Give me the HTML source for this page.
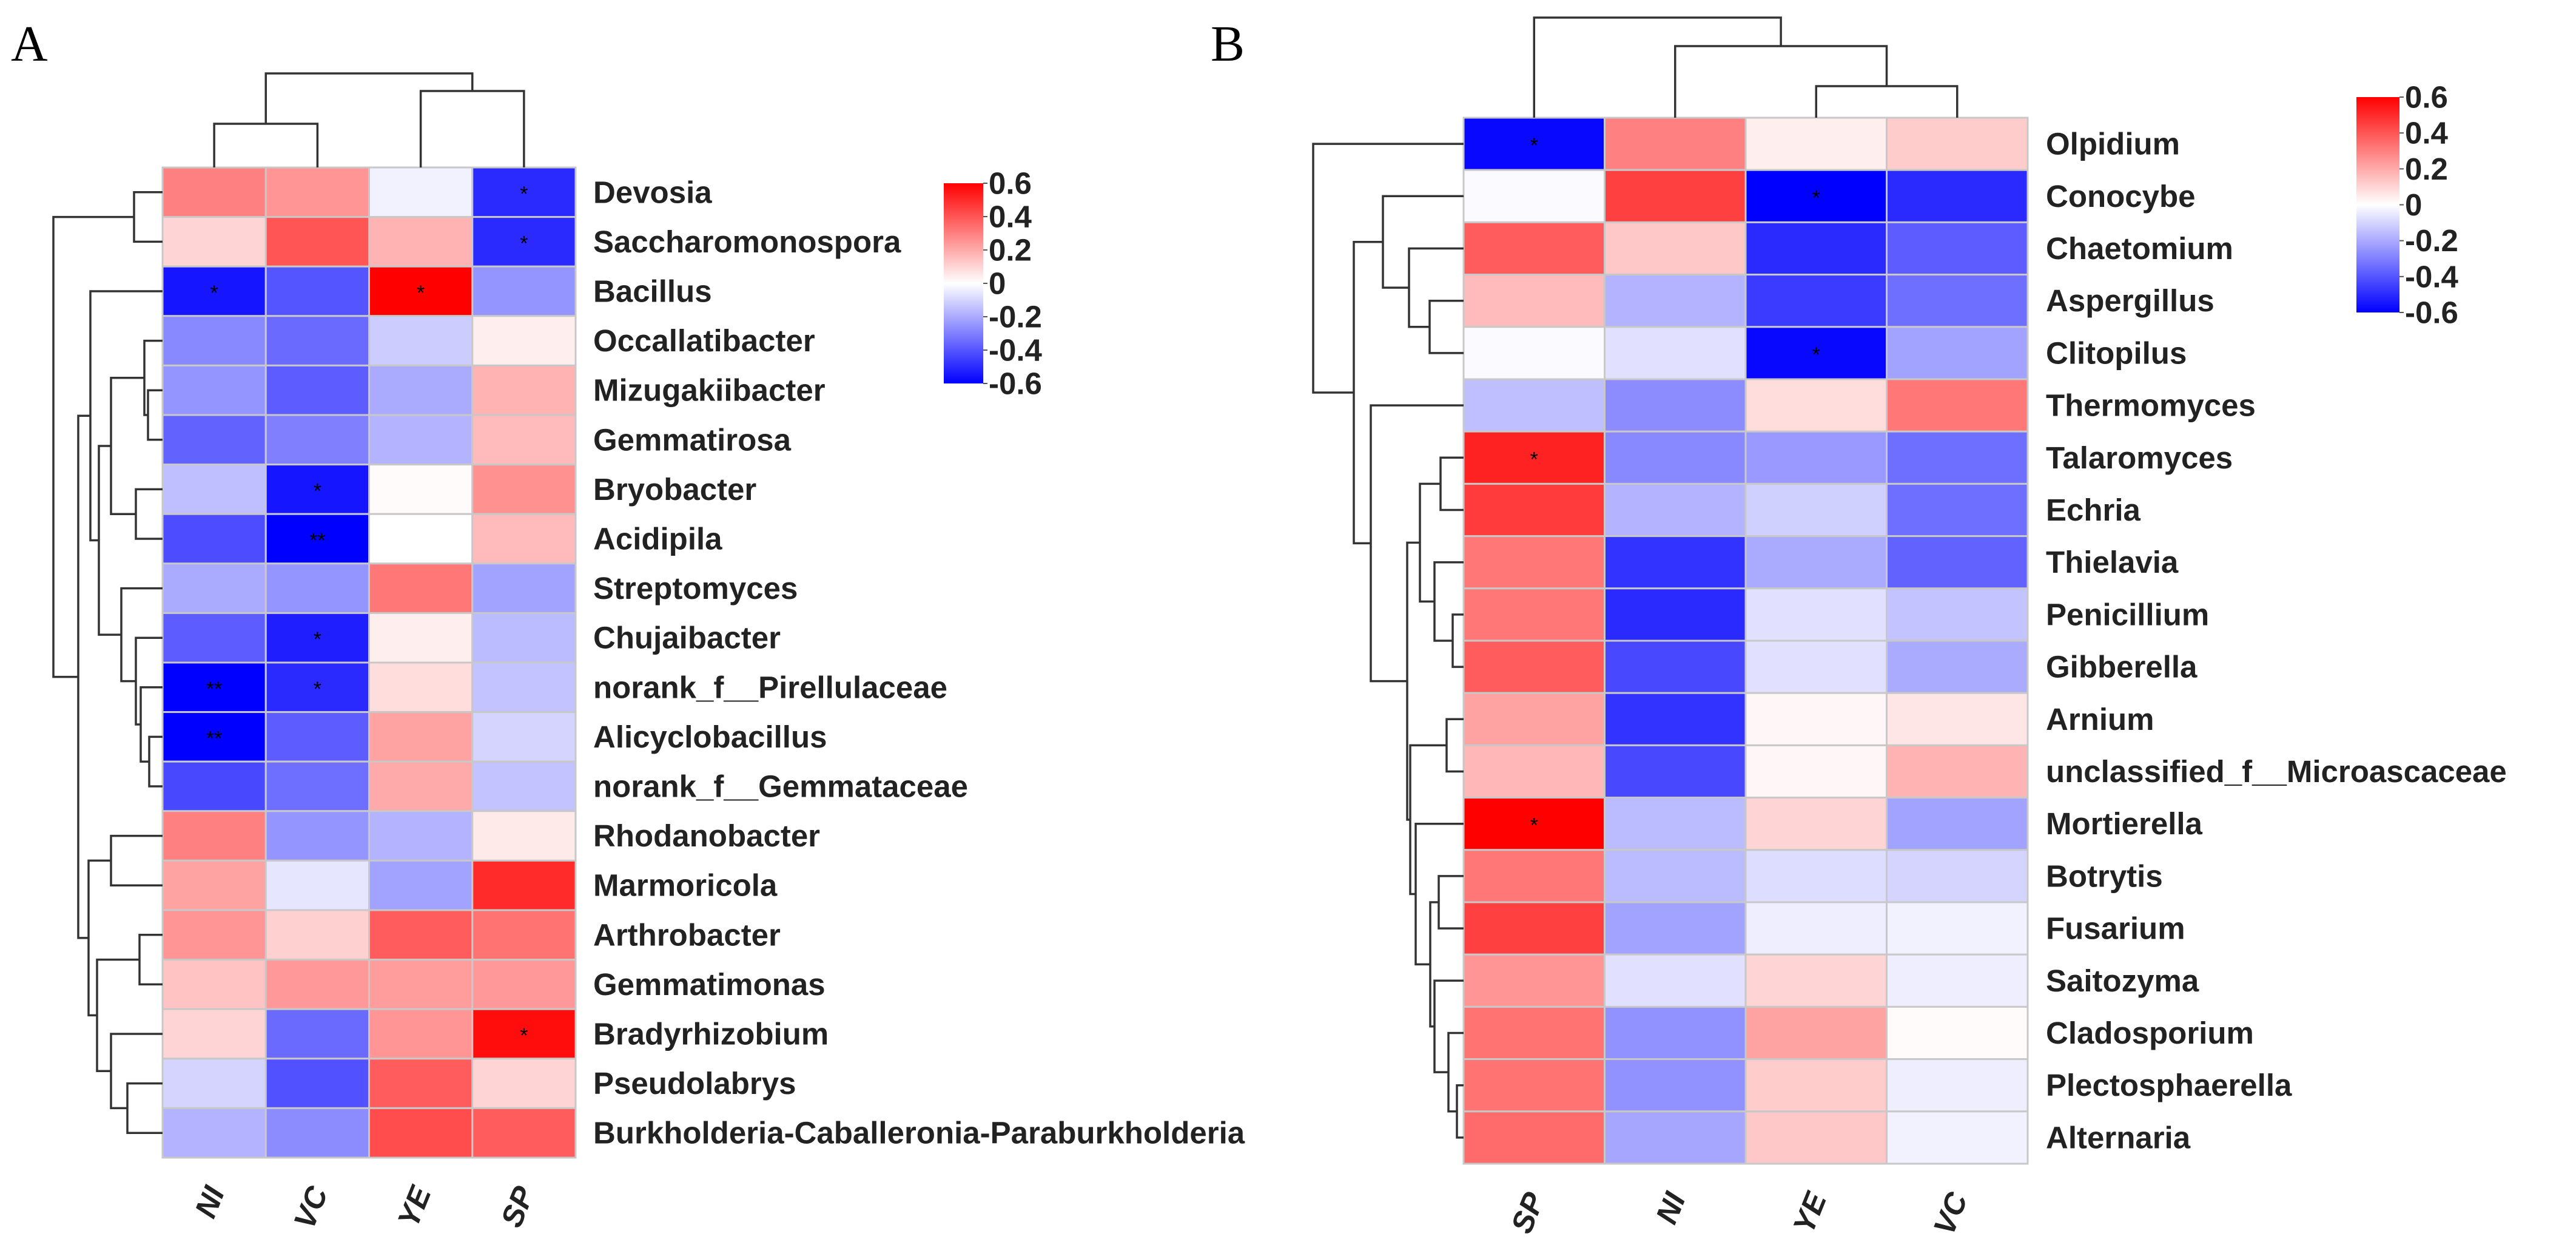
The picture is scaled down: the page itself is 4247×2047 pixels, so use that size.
<!DOCTYPE html>
<html><head><meta charset="utf-8"><style>
html,body{margin:0;padding:0;background:#fff;}
svg{display:block;}
text{font-family:"Liberation Sans",Arial,sans-serif;}
</style></head><body>
<svg id="chart" width="4247" height="2047" viewBox="0 0 4247 2047" xmlns="http://www.w3.org/2000/svg">
<defs>
<linearGradient id="lg" x1="0" y1="0" x2="0" y2="1">
<stop offset="0" stop-color="#ff0000"/><stop offset="0.5" stop-color="#ffffff"/><stop offset="1" stop-color="#0000ff"/>
</linearGradient>
</defs>
<text x="18" y="100" style="font-family:'Liberation Serif',serif" font-size="84">A</text>
<text x="1996" y="100" style="font-family:'Liberation Serif',serif" font-size="84">B</text>
<g id="pa"></g>
<g id="pb"></g>
</svg>
<script>
// ---- Panel A data ----
const rowsA = ["Devosia","Saccharomonospora","Bacillus","Occallatibacter","Mizugakiibacter","Gemmatirosa","Bryobacter","Acidipila","Streptomyces","Chujaibacter","norank_f__Pirellulaceae","Alicyclobacillus","norank_f__Gemmataceae","Rhodanobacter","Marmoricola","Arthrobacter","Gemmatimonas","Bradyrhizobium","Pseudolabrys","Burkholderia-Caballeronia-Paraburkholderia"];
const colsA = ["NI","VC","YE","SP"];
const valsA = [
[0.3,0.25,-0.03,-0.5],[0.1,0.4,0.18,-0.5],[-0.55,-0.4,0.6,-0.25],[-0.28,-0.35,-0.12,0.04],
[-0.25,-0.38,-0.2,0.18],[-0.37,-0.3,-0.18,0.16],[-0.15,-0.55,0.01,0.26],[-0.42,-0.6,0,0.16],
[-0.2,-0.25,0.32,-0.22],[-0.38,-0.53,0.04,-0.16],[-0.6,-0.5,0.08,-0.14],[-0.6,-0.38,0.22,-0.1],
[-0.43,-0.34,0.2,-0.14],[0.3,-0.25,-0.18,0.05],[0.22,-0.06,-0.22,0.5],[0.25,0.11,0.38,0.33],
[0.14,0.24,0.23,0.24],[0.1,-0.35,0.25,0.57],[-0.1,-0.41,0.38,0.1],[-0.18,-0.27,0.42,0.38]];
const starsA = [["","","","*"],["","","","*"],["*","","*",""],["","","",""],["","","",""],["","","",""],["","*","",""],["","**","",""],["","","",""],["","*","",""],["**","*","",""],["**","","",""],["","","",""],["","","",""],["","","",""],["","","",""],["","","",""],["","","","*"],["","","",""],["","","",""]];
const rowTreeA = [180,[47,0,1],[139,[119,2,[105,[85,[30,3,[24,4,5]],[44,6,7]],[68,8,[44,9,[36,10,[22,11,12]]]]]],[122,[85,13,14],[108,[38,15,16],[85,17,[58,18,19]]]]]];
const colTreeA = [155,[72,0,1],[126,2,3]];
// ---- Panel B data ----
const rowsB = ["Olpidium","Conocybe","Chaetomium","Aspergillus","Clitopilus","Thermomyces","Talaromyces","Echria","Thielavia","Penicillium","Gibberella","Arnium","unclassified_f__Microascaceae","Mortierella","Botrytis","Fusarium","Saitozyma","Cladosporium","Plectosphaerella","Alternaria"];
const colsB = ["SP","NI","YE","VC"];
const valsB = [
[-0.58,0.3,0.04,0.12],[-0.01,0.45,-0.6,-0.5],[0.38,0.13,-0.5,-0.38],[0.16,-0.18,-0.46,-0.34],
[-0.01,-0.07,-0.58,-0.22],[-0.15,-0.27,0.08,0.32],[0.52,-0.28,-0.24,-0.34],[0.46,-0.18,-0.11,-0.34],
[0.32,-0.48,-0.2,-0.37],[0.32,-0.5,-0.07,-0.14],[0.38,-0.43,-0.07,-0.2],[0.22,-0.48,0.02,0.06],
[0.17,-0.43,0.02,0.18],[0.6,-0.16,0.1,-0.22],[0.32,-0.16,-0.08,-0.1],[0.45,-0.22,-0.04,-0.03],
[0.25,-0.07,0.1,-0.04],[0.33,-0.26,0.22,0.01],[0.33,-0.26,0.12,-0.04],[0.35,-0.21,0.13,-0.03]];
const starsB = [["*","","",""],["","","*",""],["","","",""],["","","",""],["","","*",""],["","","",""],["*","","",""],["","","",""],["","","",""],["","","",""],["","","",""],["","","",""],["","","",""],["*","","",""],["","","",""],["","","",""],["","","",""],["","","",""],["","","",""],["","","",""]];
const rowTreeB = [248,0,[181,[133,1,[90,2,[56,3,4]]],[153,5,[93,[72,[38,6,7],[48,8,[18,9,10]]],[88,[28,11,12],[79,13,[55,[41,14,15],[48,16,[25,17,[11,18,19]]]]]]]]]];
const colTreeB = [165,0,[118,1,[52,2,3]]];
const legendTicks = [0.6,0.4,0.2,0,-0.2,-0.4,-0.6];

const NS="http://www.w3.org/2000/svg";
function mk(tag,attrs,parent){const e=document.createElementNS(NS,tag);for(const k in attrs)e.setAttribute(k,attrs[k]);parent.appendChild(e);return e;}
function color(v){const t=Math.max(-1,Math.min(1,v/0.6));
 if(t>=0){const g=Math.round(255*(1-t));return `rgb(255,${g},${g})`;}
 const g=Math.round(255*(1+t));return `rgb(${g},${g},255)`;}

function panel(g,cfg){
 const {rows,cols,vals,stars,rowTree,colTree,gx,gy,cw,rh,lx,leg}=cfg;
 const xC=i=>gx+cw*(i+0.5), yC=j=>gy+rh*(j+0.5);
 for(let j=0;j<rows.length;j++){
  for(let i=0;i<cols.length;i++){
   const r=mk('rect',{x:gx+cw*i,y:gy+rh*j,width:cw,height:rh,fill:color(vals[j][i]),stroke:'#c8c8c8','stroke-width':3},g);
   
   
   if(stars[j][i]){const s=mk('text',{x:xC(i),y:yC(j)+14,'text-anchor':'middle','font-size':34,fill:'#000'},g);s.textContent=stars[j][i];
    
    }
  }
  const t=mk('text',{x:lx,y:yC(j),'dominant-baseline':'central','font-size':51,'font-weight':'bold',fill:'#222'},g);
  t.textContent=rows[j];
  
  
 }
 cols.forEach((c,i)=>{
  const yy=gy+rh*rows.length+50;
  const xx=xC(i)+2;
  const t=mk('text',{x:xx,y:yy,'text-anchor':'end','dominant-baseline':'central','font-size':50,'font-weight':'bold','font-style':'italic',fill:'#222',transform:`rotate(-68 ${xx} ${yy})`},g);
  t.textContent=c;
  
  
 });
 const st={stroke:'#333','stroke-width':3.5,fill:'none'};
 function dr(n){ if(typeof n==='number') return {p:yC(n),h:0};
  const a=dr(n[1]),b=dr(n[2]);const x=gx-n[0];
  const xa=gx-a.h, xb=gx-b.h;
  const p=mk('path',Object.assign({d:`M${xa},${a.p}H${x}V${b.p}H${xb}`},st),g);
  
  
  return {p:(a.p+b.p)/2,h:n[0]};}
 dr(rowTree);
 function dc(n){ if(typeof n==='number') return {p:xC(n),h:0};
  const a=dc(n[1]),b=dc(n[2]);const y=gy-n[0];
  const p=mk('path',Object.assign({d:`M${a.p},${gy-a.h}V${y}H${b.p}V${gy-b.h}`},st),g);
  
  
  return {p:(a.p+b.p)/2,h:n[0]};}
 dc(colTree);
 const lr=mk('rect',{x:leg.x,y:leg.y,width:leg.w,height:leg.h,fill:'url(#lg)'},g);
 
 
 legendTicks.forEach(v=>{
  const y=leg.y+leg.h*(0.6-v)/1.2;
  mk('line',{x1:leg.x+leg.w,x2:leg.x+leg.w+7,y1:y,y2:y,stroke:'#555','stroke-width':2},g);
  const t=mk('text',{x:leg.x+leg.w+9,y:y,'dominant-baseline':'central','font-size':51,'font-weight':'bold',fill:'#222'},g);
  t.textContent=v===0?'0':v.toFixed(1);
  
  
 });
}
panel(document.getElementById('pa'),{rows:rowsA,cols:colsA,vals:valsA,stars:starsA,rowTree:rowTreeA,colTree:colTreeA,gx:268,gy:276,cw:170.25,rh:81.6,lx:978,leg:{x:1556,y:302,w:65,h:330}});
panel(document.getElementById('pb'),{rows:rowsB,cols:colsB,vals:valsB,stars:starsB,rowTree:rowTreeB,colTree:colTreeB,gx:2413,gy:194,cw:232.5,rh:86.2,lx:3373,leg:{x:3885,y:160,w:71,h:355}});
</script>
</body></html>
